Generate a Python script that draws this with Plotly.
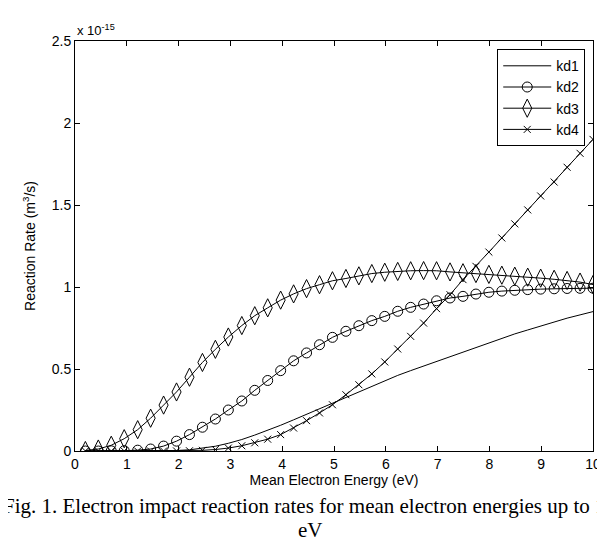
import plotly.graph_objects as go

# Mean electron energy (eV)
energy = [0.20, 0.45, 0.70, 0.95, 1.21, 1.46, 1.71, 1.96, 2.21, 2.46,
          2.71, 2.96, 3.22, 3.47, 3.72, 3.97, 4.22, 4.47, 4.72, 4.97,
          5.23, 5.48, 5.73, 5.98, 6.23, 6.48, 6.73, 6.98, 7.24, 7.49,
          7.74, 7.99, 8.24, 8.49, 8.74, 8.99, 9.25, 9.50, 9.75, 10.0]

# Reaction rates in units of 1e-15 m^3/s
kd1 = [0.0, 0.0, 0.0, 0.0, 0.0, 0.0, 0.001, 0.003, 0.007, 0.016,
       0.029, 0.047, 0.070, 0.097, 0.126, 0.157, 0.190, 0.224, 0.258, 0.293,
       0.328, 0.360, 0.393, 0.427, 0.461, 0.490, 0.518, 0.546, 0.574, 0.602,
       0.630, 0.660, 0.690, 0.714, 0.738, 0.762, 0.787, 0.810, 0.830, 0.850]

kd2 = [0.0, 0.0, 0.001, 0.002, 0.005, 0.012, 0.030, 0.060, 0.100, 0.145,
       0.195, 0.250, 0.305, 0.370, 0.430, 0.490, 0.550, 0.598, 0.648, 0.693,
       0.730, 0.764, 0.795, 0.821, 0.852, 0.876, 0.896, 0.916, 0.933, 0.943,
       0.957, 0.968, 0.975, 0.980, 0.984, 0.987, 0.989, 0.991, 0.992, 0.993]

kd3 = [0.003, 0.012, 0.035, 0.075, 0.130, 0.200, 0.280, 0.360, 0.450, 0.540,
       0.620, 0.695, 0.765, 0.825, 0.873, 0.920, 0.958, 0.990, 1.014, 1.038,
       1.052, 1.068, 1.082, 1.090, 1.095, 1.099, 1.100, 1.099, 1.092, 1.087,
       1.082, 1.077, 1.072, 1.066, 1.060, 1.054, 1.047, 1.040, 1.030, 1.015]

kd4 = [0.0, 0.0, 0.0, 0.0, 0.0, 0.0, 0.0, 0.0005, 0.0015, 0.004,
       0.009, 0.018, 0.032, 0.050, 0.072, 0.100, 0.140, 0.185, 0.232, 0.282,
       0.343, 0.404, 0.470, 0.543, 0.622, 0.699, 0.780, 0.868, 0.953, 1.045,
       1.126, 1.213, 1.299, 1.385, 1.470, 1.555, 1.640, 1.730, 1.815, 1.900]

series_names = ["kd1", "kd2", "kd3", "kd4"]
x_ticks = [0, 1, 2, 3, 4, 5, 6, 7, 8, 9, 10]
y_ticks = [0, 0.5, 1, 1.5, 2, 2.5]
y_tick_text = ["0", "0.5", "1", "1.5", "2", "2.5"]

SANS = "Liberation Sans, Arial, sans-serif"
SERIF = "Liberation Serif, Times New Roman, serif"
LINE = dict(color="black", width=1)

fig = go.Figure()
fig.add_trace(go.Scatter(x=energy, y=kd1, name=series_names[0], mode="lines", line=LINE))
fig.add_trace(go.Scatter(x=energy, y=kd2, name=series_names[1], mode="lines+markers", line=LINE,
                         marker=dict(symbol="circle-open", size=10, color="black",
                                     line=dict(width=1, color="black"))))
fig.add_trace(go.Scatter(x=energy, y=kd3, name=series_names[2], mode="lines+markers", line=LINE,
                         marker=dict(symbol="diamond-tall-open", size=13, color="black",
                                     line=dict(width=1, color="black"))))
fig.add_trace(go.Scatter(x=energy, y=kd4, name=series_names[3], mode="lines+markers", line=LINE,
                         marker=dict(symbol="x-thin-open", size=7, color="black",
                                     line=dict(width=1, color="black"))))

axis_font = dict(family=SANS, size=14, color="black")
fig.update_layout(
    width=605, height=545,
    margin=dict(l=67, r=14, t=33, b=102),
    paper_bgcolor="white", plot_bgcolor="white",
    font=axis_font,
    showlegend=True,
    legend=dict(x=0.985, y=0.98, xanchor="right", yanchor="top",
                bgcolor="white", bordercolor="black", borderwidth=1,
                font=dict(family=SANS, size=14, color="black"),
                itemwidth=48, tracegroupgap=0),
    annotations=[
        dict(x=0, y=1, xref="paper", yref="paper", xanchor="left", yanchor="bottom",
             text="x 10<sup>-15</sup>", showarrow=False, yshift=1,
             font=dict(family=SANS, size=13, color="black")),
        dict(x=0.452, y=-0.134, xref="paper", yref="paper", xanchor="center", yanchor="middle",
             text="Fig. 1. Electron impact reaction rates for mean electron energies up to 10",
             showarrow=False,
             font=dict(family=SERIF, size=21, color="black")),
        dict(x=0.455, y=-0.1927, xref="paper", yref="paper", xanchor="center", yanchor="middle",
             text="eV", showarrow=False,
             font=dict(family=SERIF, size=21, color="black")),
    ],
)
fig.update_xaxes(range=[0, 10], tickvals=x_ticks, ticks="inside", ticklen=5, tickcolor="black",
                 showline=True, linecolor="black", linewidth=1, mirror="ticks",
                 showgrid=False, zeroline=False, tickfont=axis_font,
                 title=dict(text="Mean Electron Energy (eV)", standoff=4, font=axis_font))
fig.update_yaxes(range=[0, 2.5], tickvals=y_ticks, ticktext=y_tick_text, ticks="inside", ticklen=5,
                 tickcolor="black", showline=True, linecolor="black", linewidth=1, mirror="ticks",
                 showgrid=False, zeroline=False, tickfont=axis_font,
                 title=dict(text="Reaction Rate (m<sup>3</sup>/s)", standoff=12, font=axis_font))

fig.write_html("out.html")
